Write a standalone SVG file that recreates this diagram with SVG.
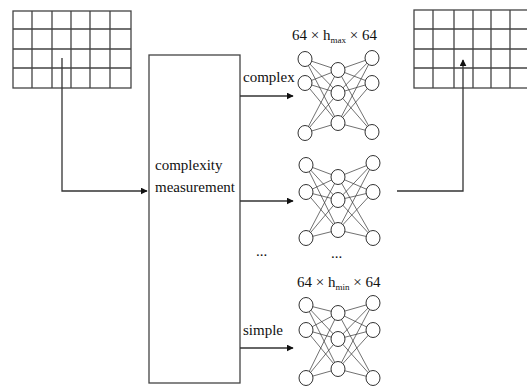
<svg xmlns="http://www.w3.org/2000/svg" width="527" height="386" viewBox="0 0 527 386">
<style>
.g{fill:none;stroke:#444;stroke-width:1.3}
.c{fill:#fff;stroke:#333;stroke-width:1}
.w{stroke:#333;stroke-width:0.7}
.cn{fill:none;stroke:#333;stroke-width:1.3}
text{font-family:"Liberation Serif","Times New Roman",serif;font-size:15px;fill:#111}
.s{font-size:9px}
</style>
<defs>
<marker id="ah" viewBox="0 0 10 10" refX="9" refY="5" markerWidth="7" markerHeight="7" markerUnits="userSpaceOnUse" orient="auto"><path d="M0,0L10,5L0,10z" fill="#111"/></marker>
</defs>
<rect width="527" height="386" fill="#fff"/>
<g id="grid-in">
<rect class="g" x="13" y="11" width="118" height="77"/>
<path class="g" d="M32,11V88M52,11V88M71,11V88M90,11V88M110,11V88M13,29H131M13,49H131M13,68H131"/>
</g>
<g id="grid-out">
<rect class="g" x="414" y="10" width="120" height="78"/>
<path class="g" d="M433,10V88M454,10V88M473,10V88M491,10V88M510,10V88M414,29H534M414,49H534M414,68H534"/>
</g>
<g id="complexity">
<rect class="g" x="149" y="55" width="91" height="328"/>
<text x="155" y="170">complexity</text>
<text x="155" y="192">measurement</text>
</g>
<g id="net-max">
<g class="w">
<path d="M305,59L338,70M305,59L338,93M305,59L338,123M305,83L338,70M305,83L338,93M305,83L338,123M305,133L338,70M305,133L338,93M305,133L338,123M338,70L372,58M338,70L372,83M338,70L372,132M338,93L372,58M338,93L372,83M338,93L372,132M338,123L372,58M338,123L372,83M338,123L372,132"/>
</g>
<ellipse class="c" cx="305" cy="59" rx="7" ry="7.5"/><ellipse class="c" cx="305" cy="83" rx="7" ry="7.5"/><ellipse class="c" cx="305" cy="133" rx="7" ry="7.5"/>
<ellipse class="c" cx="338" cy="70" rx="7" ry="7.5"/><ellipse class="c" cx="338" cy="93" rx="7" ry="7.5"/><ellipse class="c" cx="338" cy="123" rx="7" ry="7.5"/>
<ellipse class="c" cx="372" cy="58" rx="7" ry="7.5"/><ellipse class="c" cx="372" cy="83" rx="7" ry="7.5"/><ellipse class="c" cx="372" cy="132" rx="7" ry="7.5"/>
<text x="292" y="40">64 × h<tspan class="s" dy="3">max</tspan><tspan dy="-3"> × 64</tspan></text>
</g>
<g id="net-mid">
<g class="w">
<path d="M306,165L338,177M306,165L338,200M306,165L338,230M306,192L338,177M306,192L338,200M306,192L338,230M306,238L338,177M306,238L338,200M306,238L338,230M338,177L373,163M338,177L373,192M338,177L373,238M338,200L373,163M338,200L373,192M338,200L373,238M338,230L373,163M338,230L373,192M338,230L373,238"/>
</g>
<ellipse class="c" cx="306" cy="165" rx="7" ry="7.5"/><ellipse class="c" cx="306" cy="192" rx="7" ry="7.5"/><ellipse class="c" cx="306" cy="238" rx="7" ry="7.5"/>
<ellipse class="c" cx="338" cy="177" rx="7" ry="7.5"/><ellipse class="c" cx="338" cy="200" rx="7" ry="7.5"/><ellipse class="c" cx="338" cy="230" rx="7" ry="7.5"/>
<ellipse class="c" cx="373" cy="163" rx="7" ry="7.5"/><ellipse class="c" cx="373" cy="192" rx="7" ry="7.5"/><ellipse class="c" cx="373" cy="238" rx="7" ry="7.5"/>
<text x="331" y="258">...</text>
</g>
<g id="net-min">
<g class="w">
<path d="M306,305L338,313M306,305L338,339M306,305L338,369M306,330L338,313M306,330L338,339M306,330L338,369M306,378L338,313M306,378L338,339M306,378L338,369M338,313L373,303M338,313L373,330M338,313L373,378M338,339L373,303M338,339L373,330M338,339L373,378M338,369L373,303M338,369L373,330M338,369L373,378"/>
</g>
<ellipse class="c" cx="306" cy="305" rx="7" ry="7.5"/><ellipse class="c" cx="306" cy="330" rx="7" ry="7.5"/><ellipse class="c" cx="306" cy="378" rx="7" ry="7.5"/>
<ellipse class="c" cx="338" cy="313" rx="7" ry="7.5"/><ellipse class="c" cx="338" cy="339" rx="7" ry="7.5"/><ellipse class="c" cx="338" cy="369" rx="7" ry="7.5"/>
<ellipse class="c" cx="373" cy="303" rx="7" ry="7.5"/><ellipse class="c" cx="373" cy="330" rx="7" ry="7.5"/><ellipse class="c" cx="373" cy="378" rx="7" ry="7.5"/>
<text x="297" y="287">64 × h<tspan class="s" dy="3">min</tspan><tspan dy="-3"> × 64</tspan></text>
</g>
<g id="connectors">
<path class="cn" d="M62,58V191H147" marker-end="url(#ah)"/>
<path class="cn" d="M240,96H293" marker-end="url(#ah)"/>
<path class="cn" d="M240,201H293" marker-end="url(#ah)"/>
<path class="cn" d="M240,348H293" marker-end="url(#ah)"/>
<path class="cn" d="M397,191H463V60" marker-end="url(#ah)"/>
<text x="243" y="82">complex</text>
<text x="243" y="335">simple</text>
<text x="256" y="256">...</text>
</g>
</svg>
